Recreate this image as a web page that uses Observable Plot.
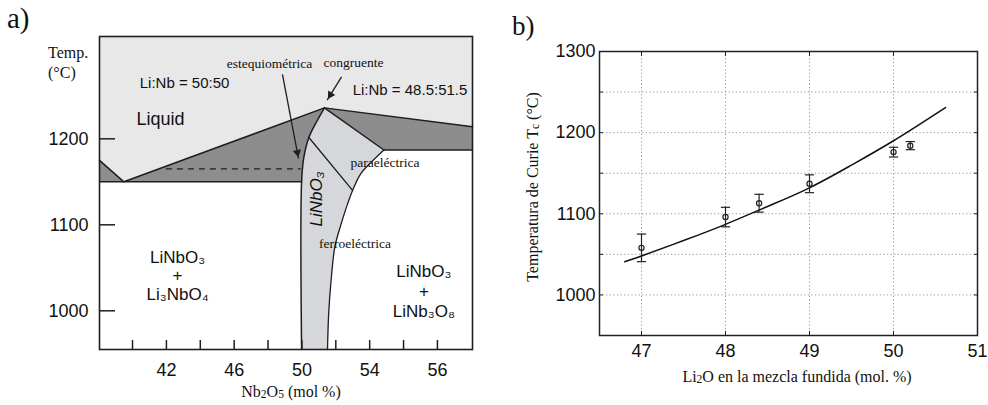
<!DOCTYPE html>
<html><head><meta charset="utf-8">
<script src="https://cdn.jsdelivr.net/npm/d3@7"></script>
<script src="https://cdn.jsdelivr.net/npm/@observablehq/plot@0.6"></script>
<style>
html,body{margin:0;padding:0;background:#fff}
body{width:988px;height:405px;overflow:hidden;position:relative;font-family:"Liberation Serif",serif;color:#111}
#a{position:absolute;left:0;top:0}
#b{position:absolute;left:480px;top:0}
.t{position:absolute;white-space:nowrap;line-height:1}
.c{transform:translate(-50%,-50%)}
sub{font-size:0.72em;vertical-align:-0.08em}
</style></head><body>
<div id="a"></div><div id="b"></div>
<div class="t" style="left:7px;top:4px;font-size:29px">a)</div>
<div class="t" style="left:512px;top:13px;font-size:27px">b)</div>
<div class="t" style="left:48px;top:45px;font-size:16px">Temp.</div>
<div class="t" style="left:48px;top:65px;font-size:16px">(°C)</div>
<div class="t c" style="left:291px;top:392px;font-size:16px">Nb<sub>2</sub>O<sub>5</sub> (mol %)</div>
<div class="t c" style="left:797px;top:377px;font-size:16px">Li<sub>2</sub>O en la mezcla fundida (mol. %)</div>
<div class="t" style="left:533px;top:187px;font-size:16px;transform:translate(-50%,-50%) rotate(-90deg)">Temperatura de Curie T<sub>c</sub> (°C)</div>
<script>
// ---------- Panel a: phase diagram (Nb2O5 mol %, °C) ----------
const xDomainA = [38.05, 60.07];
const tDomainA = [955, 1319];
const xTicksA = [40, 42, 44, 46, 48, 50, 52, 54, 56, 58];
const xLabelPosA = [42, 46, 50, 54, 58];
const xLabelTextA = ["42", "46", "50", "54", "56"];
const tTicksA = [1000, 1100, 1200];

// liquidus
const liquidusX = [38.05, 39.49, 51.33, 60.07];
const liquidusT = [1175, 1150, 1236, 1214];
// solidus (left) and eutectic line (right)
const solidusT = 1150;
const eutecticRightT = 1187;
// LiNbO3 phase field boundaries
const leftBoundX = [51.33, 50.90, 50.41, 50.11, 49.98, 49.98];
const leftBoundT = [1236, 1221, 1201.5, 1178, 1150, 955];
const rightBoundX = [54.84, 54.05, 53.46, 52.99, 52.62, 52.30, 51.95, 51.72, 51.58, 51.51];
const rightBoundT = [1187, 1172, 1159, 1140, 1120, 1100, 1075, 1035, 997, 955];
// Curie (para / ferro) line
const curieX = [50.41, 52.99];
const curieT = [1201.5, 1140];
// dashed stoichiometric level
const dashedX = [42.0, 49.9];
const dashedT = 1165;

const pts = (xs, ts) => xs.map((x, i) => ({x, y: ts[i]}));
const [x0, x1] = xDomainA, [t0, t1] = tDomainA;
const peak = {x: liquidusX[2], y: liquidusT[2]};
const eut = {x: liquidusX[1], y: liquidusT[1]};

const liquidPoly = [{x: x0, y: liquidusT[0]}, {x: x0, y: t1}, {x: x1, y: t1}, {x: x1, y: liquidusT[3]}, peak, eut, {x: x0, y: liquidusT[0]}];
const darkLeftPoly = [{x: x0, y: liquidusT[0]}, eut, ...pts(leftBoundX.slice(0, 5), leftBoundT.slice(0, 5)), {x: x0, y: solidusT}];
const darkRightPoly = [peak, {x: x1, y: liquidusT[3]}, {x: x1, y: eutecticRightT}, {x: rightBoundX[0], y: rightBoundT[0]}];
const phasePoly = [peak, ...pts(rightBoundX, rightBoundT), ...pts(leftBoundX, leftBoundT).reverse()];

const annotSans = [
  {x: 41.65, y: 1223, text: "Liquid", size: 18},
  {x: 43.07, y: 1265, text: "Li:Nb = 50:50", size: 15},
  {x: 56.38, y: 1256, text: "Li:Nb = 48.5:51.5", size: 15}
];
const annotSerif = [
  {x: 48.09, y: 1287, text: "estequiométrica"},
  {x: 53.05, y: 1288, text: "congruente"},
  {x: 54.9, y: 1172, text: "paraeléctrica"},
  {x: 53.13, y: 1078, text: "ferroeléctrica"}
];
const phaseLabels = [
  {x: 42.66, y: 1041, text: "LiNbO₃\n+\nLi₃NbO₄"},
  {x: 57.2, y: 1023, text: "LiNbO₃\n+\nLiNb₃O₈"}
];
const arrows = [
  {x1: 48.85, y1: 1275, x2: 49.8, y2: 1177},
  {x1: 52.34, y1: 1272, x2: 51.49, y2: 1245}
];

const lineCol = "#1e1e1e";
const layoutA = {
  width: 480, height: 405,
  marginLeft: 99, marginRight: 8, marginTop: 36, marginBottom: 56,
  style: {fontFamily: "Liberation Sans, Arial, sans-serif", fontSize: "18px", color: "#111", background: "transparent"},
  x: {domain: xDomainA},
  y: {domain: tDomainA}
};
// first pass only to obtain the scales, used to orient the filled arrowheads
const probe = Plot.plot({...layoutA, marks: [Plot.frame()]});
const sx = probe.scale("x"), sy = probe.scale("y");
const HEAD_R = 4;
const headOffset = 2 * Math.sqrt(Math.PI * HEAD_R * HEAD_R / (Math.sqrt(3) * 3));
const heads = arrows.map(a => {
  const px1 = sx.apply(a.x1), py1 = sy.apply(a.y1), px2 = sx.apply(a.x2), py2 = sy.apply(a.y2);
  const dx = px2 - px1, dy = py2 - py1, L = Math.hypot(dx, dy);
  const cx = px2 - dx / L * headOffset, cy = py2 - dy / L * headOffset;
  return {x: sx.invert(cx), y: sy.invert(cy), angle: Math.atan2(dx, -dy) * 180 / Math.PI};
});

const plotA = Plot.plot({
  ...layoutA,
  marks: [
    Plot.line(liquidPoly, {x: "x", y: "y", fill: "#e8e8e8", stroke: "none"}),
    Plot.line(darkLeftPoly, {x: "x", y: "y", fill: "#8d8d8d", stroke: "none"}),
    Plot.line(darkRightPoly, {x: "x", y: "y", fill: "#8d8d8d", stroke: "none"}),
    Plot.line(phasePoly, {x: "x", y: "y", fill: "#d5d7da", stroke: "none"}),
    Plot.line(pts(liquidusX, liquidusT), {x: "x", y: "y", stroke: lineCol, strokeWidth: 1.5}),
    Plot.line([{x: x0, y: solidusT}, {x: leftBoundX[4], y: solidusT}], {x: "x", y: "y", stroke: lineCol, strokeWidth: 1.5}),
    Plot.line([{x: rightBoundX[0], y: eutecticRightT}, {x: x1, y: eutecticRightT}], {x: "x", y: "y", stroke: lineCol, strokeWidth: 1.5}),
    Plot.line(pts(leftBoundX, leftBoundT), {x: "x", y: "y", stroke: lineCol, strokeWidth: 1.5, curve: "catmull-rom"}),
    Plot.line([peak, {x: rightBoundX[0], y: rightBoundT[0]}], {x: "x", y: "y", stroke: lineCol, strokeWidth: 1.5}),
    Plot.line(pts(rightBoundX, rightBoundT), {x: "x", y: "y", stroke: lineCol, strokeWidth: 1.3, curve: "catmull-rom"}),
    Plot.line(pts(curieX, curieT), {x: "x", y: "y", stroke: lineCol, strokeWidth: 1.3}),
    Plot.line(dashedX.map(x => ({x, y: dashedT})), {x: "x", y: "y", stroke: lineCol, strokeWidth: 1.2, strokeDasharray: "5,6"}),
    Plot.link(arrows, {x1: "x1", y1: "y1", x2: "x2", y2: "y2", stroke: lineCol, strokeWidth: 1.3}),
    Plot.dot(heads, {x: "x", y: "y", rotate: "angle", symbol: "triangle2", r: HEAD_R, fill: lineCol, stroke: "none"}),
    Plot.text(annotSans, {x: "x", y: "y", text: "text", fontSize: d => d.size, fill: "#111", fontFamily: "Liberation Sans, Arial, sans-serif"}),
    Plot.text(annotSerif, {x: "x", y: "y", text: "text", fontSize: 13.5, fill: "#111", fontFamily: "Liberation Serif, serif"}),
    Plot.text([{x: 50.86, y: 1130, text: "LiNbO₃"}], {x: "x", y: "y", text: "text", rotate: -90, fontSize: 17, fontStyle: "italic", fill: "#111", fontFamily: "Liberation Sans, Arial, sans-serif"}),
    Plot.text(phaseLabels.slice(0, 1), {x: "x", y: "y", text: "text", fontSize: 17, lineHeight: 1.07, fill: "#111", fontFamily: "Liberation Sans, Arial, sans-serif"}),
    Plot.text(phaseLabels.slice(1), {x: "x", y: "y", text: "text", fontSize: 17, lineHeight: 1.18, fill: "#111", fontFamily: "Liberation Sans, Arial, sans-serif"}),
    Plot.frame({stroke: lineCol, strokeWidth: 1.6}),
    Plot.axisY(tTicksA, {anchor: "left", tickSize: 16, dx: 16, text: null, label: null, stroke: lineCol, strokeWidth: 1.5}),
    Plot.axisY(tTicksA, {anchor: "left", tickSize: 0, tickPadding: 11, label: null, tickFormat: d => String(d)}),
    Plot.axisX(xTicksA, {anchor: "bottom", tickSize: 9, dy: -9, text: null, label: null, stroke: lineCol, strokeWidth: 1.5}),
    Plot.axisX(xLabelPosA, {anchor: "bottom", tickSize: 0, tickPadding: 14, label: null, tickFormat: d => xLabelTextA[xLabelPosA.indexOf(d)]})
  ]
});
document.getElementById("a").append(plotA);

// ---------- Panel b: Curie temperature vs Li2O in melt ----------
const xDomainB = [46.5, 51];
const tDomainB = [950, 1300];
const xTicksB = [47, 48, 49, 50, 51];
const xGridB = [47, 48, 49, 50];
const tTicksB = [950, 1000, 1050, 1100, 1150, 1200, 1250, 1300];
const tGridB = [1000, 1050, 1100, 1150, 1200, 1250];
const tLabelsB = [1000, 1100, 1200, 1300];

const li2o = [47, 48, 48.4, 49, 50, 50.2];
const tc = [1058, 1096, 1113, 1137, 1176, 1184];
const tcErr = [17, 12, 11, 11, 6, 5];
const fitX = [46.8, 47, 47.5, 48, 48.5, 49, 49.5, 50, 50.62];
const fitT = [1041, 1048, 1067, 1087, 1109, 1132, 1160, 1190, 1231];

const meas = li2o.map((x, i) => ({x, y: tc[i], lo: tc[i] - tcErr[i], hi: tc[i] + tcErr[i]}));
const capSymbol = {draw(ctx, size) { const r = Math.sqrt(size); ctx.moveTo(-r, 0); ctx.lineTo(r, 0); }};

const plotB = Plot.plot({
  width: 508, height: 405,
  marginLeft: 119, marginRight: 11, marginTop: 51, marginBottom: 70,
  style: {fontFamily: "Liberation Sans, Arial, sans-serif", fontSize: "18px", color: "#111", background: "transparent"},
  x: {domain: xDomainB},
  y: {domain: tDomainB},
  marks: [
    Plot.ruleX(xGridB, {stroke: "#8a8a8a", strokeWidth: 0.9, strokeDasharray: "1.2,2.4"}),
    Plot.ruleY(tGridB, {stroke: "#8a8a8a", strokeWidth: 0.9, strokeDasharray: "1.2,2.4"}),
    Plot.line(pts(fitX, fitT), {x: "x", y: "y", stroke: "#111", strokeWidth: 1.5, curve: "natural"}),
    Plot.ruleX(meas, {x: "x", y1: "lo", y2: "hi", stroke: "#222", strokeWidth: 1.2}),
    Plot.dot(meas, {x: "x", y: "lo", symbol: capSymbol, r: 2.6, stroke: "#222", strokeWidth: 1.2, fill: "none"}),
    Plot.dot(meas, {x: "x", y: "hi", symbol: capSymbol, r: 2.6, stroke: "#222", strokeWidth: 1.2, fill: "none"}),
    Plot.dot(meas, {x: "x", y: "y", r: 2.6, stroke: "#222", strokeWidth: 1.2, fill: "none"}),
    Plot.frame({stroke: "#222", strokeWidth: 1.5}),
    Plot.axisX(xTicksB, {anchor: "bottom", tickSize: 4, dy: -4, text: null, label: null, stroke: "#222"}),
    Plot.axisX(xTicksB, {anchor: "top", tickSize: 4, dy: 4, text: null, label: null, stroke: "#222"}),
    Plot.axisY(tTicksB, {anchor: "left", tickSize: 4, dx: 4, text: null, label: null, stroke: "#222"}),
    Plot.axisY(tTicksB, {anchor: "right", tickSize: 4, dx: -4, text: null, label: null, stroke: "#222"}),
    Plot.axisY(tLabelsB, {anchor: "left", tickSize: 0, tickPadding: 4, label: null, tickFormat: d => String(d)}),
    Plot.axisX(xTicksB, {anchor: "bottom", tickSize: 0, tickPadding: 8.5, label: null, tickFormat: d => String(d)})
  ]
});
document.getElementById("b").append(plotB);
</script>
</body></html>
